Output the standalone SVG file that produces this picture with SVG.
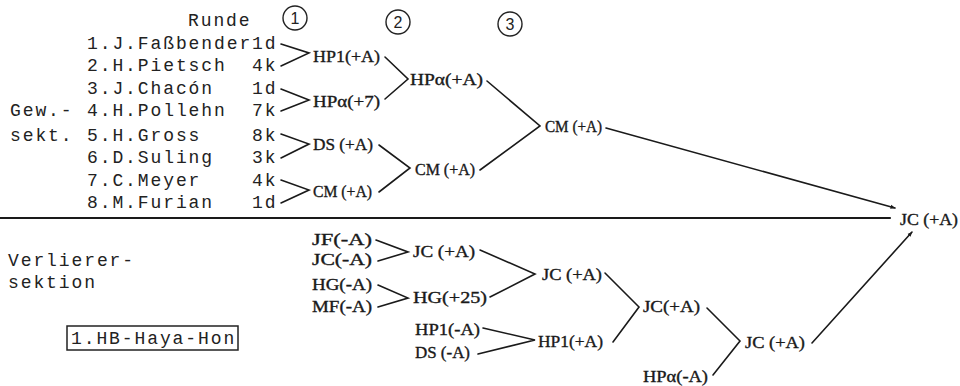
<svg xmlns="http://www.w3.org/2000/svg" width="960" height="386" viewBox="0 0 960 386">
<style>
.tw{font-family:"Liberation Mono","DejaVu Sans Mono",monospace;font-size:18px;letter-spacing:1.9px;fill:#222}
.hw{font-family:"Liberation Serif","DejaVu Serif",serif;font-size:16px;fill:#1a1a1a;stroke:#1a1a1a;stroke-width:0.35}
.ln{stroke:#1a1a1a;stroke-width:1.6;fill:none;stroke-linecap:round}
.circ{stroke:#222;stroke-width:1.4;fill:none}
.num{font-family:"Liberation Sans","DejaVu Sans",sans-serif;font-size:16px;fill:#222;text-anchor:middle}
</style>
<defs>
<marker id="ah" viewBox="0 0 10 10" refX="9" refY="5" markerWidth="5" markerHeight="5" orient="auto" markerUnits="userSpaceOnUse">
<path d="M0,1 L10,5 L0,9 z" fill="#1a1a1a"/>
</marker>
</defs>
<rect width="960" height="386" fill="#fff"/>

<g id="header">
<text class="tw" x="188" y="26">Runde</text>
<circle class="circ" cx="295" cy="18" r="12"/><text class="num" x="295" y="24">1</text>
<circle class="circ" cx="398" cy="22" r="12"/><text class="num" x="398" y="28">2</text>
<circle class="circ" cx="510" cy="24" r="12"/><text class="num" x="510" y="30">3</text>
</g>

<g id="section-labels">
<text class="tw" x="10" y="116">Gew.-</text>
<text class="tw" x="10" y="141">sekt.</text>
<text class="tw" x="8" y="266">Verlierer-</text>
<text class="tw" x="8" y="288">sektion</text>
</g>

<g id="players">
<text class="tw" x="87" y="49">1.J.Faßbender</text><text class="tw" x="252" y="49">1d</text>
<text class="tw" x="87" y="71">2.H.Pietsch</text><text class="tw" x="252" y="71">4k</text>
<text class="tw" x="87" y="94">3.J.Chacón</text><text class="tw" x="252" y="94">1d</text>
<text class="tw" x="87" y="116">4.H.Pollehn</text><text class="tw" x="252" y="116">7k</text>
<text class="tw" x="87" y="141">5.H.Gross</text><text class="tw" x="252" y="141">8k</text>
<text class="tw" x="87" y="163">6.D.Suling</text><text class="tw" x="252" y="163">3k</text>
<text class="tw" x="87" y="186">7.C.Meyer</text><text class="tw" x="252" y="186">4k</text>
<text class="tw" x="87" y="208">8.M.Furian</text><text class="tw" x="252" y="208">1d</text>
</g>

<g id="winner-box">
<rect x="67" y="326" width="171" height="24" fill="none" stroke="#222" stroke-width="1.5"/>
<text class="tw" x="71" y="344">1.HB-Haya-Hon</text>
</g>

<g id="connectors">
<line class="ln" x1="0" y1="218" x2="890" y2="218" style="stroke-width:2.2"/>
<path class="ln" d="M281,44 L309,53 L281,66"/>
<path class="ln" d="M281,89 L309,100 L281,111"/>
<path class="ln" d="M281,134 L309,144 L281,158"/>
<path class="ln" d="M281,180 L309,190 L281,203"/>
<path class="ln" d="M385,57 L408,79 L385,99"/>
<path class="ln" d="M379,145 L410,168 L379,192"/>
<path class="ln" d="M487,81 L540,126 L480,170"/>
<line class="ln" x1="606" y1="128" x2="895" y2="208" marker-end="url(#ah)"/>
<path class="ln" d="M376,240 L408,252 L378,261"/>
<path class="ln" d="M378,285 L408,298 L378,307"/>
<path class="ln" d="M483,328 L535,340 L478,354"/>
<path class="ln" d="M480,250 L535,274 L490,297"/>
<path class="ln" d="M605,273 L639,307 L613,342"/>
<path class="ln" d="M707,308 L740,341 L713,375"/>
<line class="ln" x1="812" y1="343" x2="912" y2="232" marker-end="url(#ah)"/>
</g>

<g id="n-hp1-r1"><text class="hw" x="313" y="62" textLength="67" lengthAdjust="spacingAndGlyphs">HP1(+A)</text></g>
<g id="n-hpa-r1"><text class="hw" x="313" y="107" textLength="67" lengthAdjust="spacingAndGlyphs">HPα(+7)</text></g>
<g id="n-ds-r1"><text class="hw" x="313" y="150" textLength="60" lengthAdjust="spacingAndGlyphs">DS (+A)</text></g>
<g id="n-cm-r1"><text class="hw" x="313" y="197" textLength="59" lengthAdjust="spacingAndGlyphs">CM (+A)</text></g>
<g id="n-hpa-r2"><text class="hw" x="410" y="85" textLength="73" lengthAdjust="spacingAndGlyphs">HPα(+A)</text></g>
<g id="n-cm-r2"><text class="hw" x="415" y="175" textLength="60" lengthAdjust="spacingAndGlyphs">CM (+A)</text></g>
<g id="n-cm-r3"><text class="hw" x="545" y="132" textLength="57" lengthAdjust="spacingAndGlyphs">CM (+A)</text></g>
<g id="n-jc-final"><text class="hw" x="900" y="225" textLength="58" lengthAdjust="spacingAndGlyphs">JC (+A)</text></g>

<g id="n-jf-l"><text class="hw" x="312" y="245" textLength="60" lengthAdjust="spacingAndGlyphs">JF(-A)</text></g>
<g id="n-jc-l"><text class="hw" x="312" y="265" textLength="60" lengthAdjust="spacingAndGlyphs">JC(-A)</text></g>
<g id="n-hg-l"><text class="hw" x="312" y="290" textLength="60" lengthAdjust="spacingAndGlyphs">HG(-A)</text></g>
<g id="n-mf-l"><text class="hw" x="312" y="312" textLength="60" lengthAdjust="spacingAndGlyphs">MF(-A)</text></g>
<g id="n-jc-l1"><text class="hw" x="413" y="257" textLength="62" lengthAdjust="spacingAndGlyphs">JC (+A)</text></g>
<g id="n-hg-l1"><text class="hw" x="413" y="303" textLength="74" lengthAdjust="spacingAndGlyphs">HG(+25)</text></g>
<g id="n-hp1-l"><text class="hw" x="415" y="335" textLength="65" lengthAdjust="spacingAndGlyphs">HP1(-A)</text></g>
<g id="n-ds-l"><text class="hw" x="415" y="358" textLength="55" lengthAdjust="spacingAndGlyphs">DS (-A)</text></g>
<g id="n-jc-l2"><text class="hw" x="542" y="280" textLength="60" lengthAdjust="spacingAndGlyphs">JC (+A)</text></g>
<g id="n-hp1-l2"><text class="hw" x="538" y="347" textLength="65" lengthAdjust="spacingAndGlyphs">HP1(+A)</text></g>
<g id="n-jc-l3"><text class="hw" x="643" y="312" textLength="57" lengthAdjust="spacingAndGlyphs">JC(+A)</text></g>
<g id="n-hpa-l"><text class="hw" x="643" y="382" textLength="65" lengthAdjust="spacingAndGlyphs">HPα(-A)</text></g>
<g id="n-jc-l4"><text class="hw" x="745" y="348" textLength="60" lengthAdjust="spacingAndGlyphs">JC (+A)</text></g>
</svg>
